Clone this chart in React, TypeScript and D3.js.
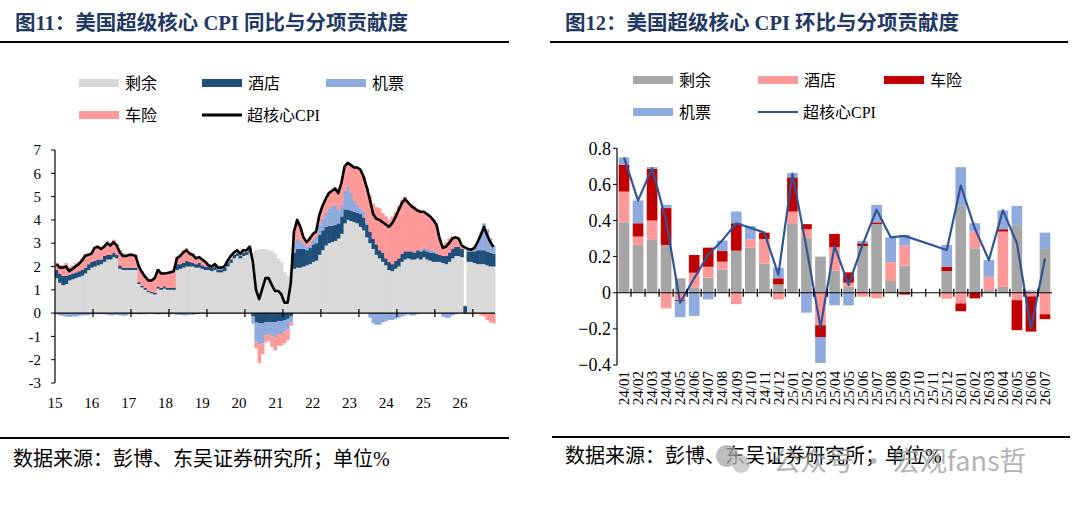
import React, { useEffect, useRef } from 'react';
import * as d3 from 'd3';

// 图11：同比贡献（%），2015-01 ~ 2026-07，按月；2025-10 缺数
const yoyResidual = [
  1.5, 1.3, 1.2, 1.25, 1.4, 1.45, 1.5, 1.55, 1.6, 1.7, 1.85, 1.95,
  2.0, 2.05, 2.1, 2.2, 2.3, 2.3, 2.4, 2.35, 1.9, 1.85, 1.85, 1.85,
  1.85, 1.85, 1.25, 1.1, 1.0, 0.9, 0.85, 0.8, 1.05, 1.0, 1.05, 1.0,
  1.0, 1.0, 1.85, 1.9, 1.95, 2.0, 2.0, 2.0, 1.95, 1.95, 1.9, 1.85,
  1.85, 1.8, 1.85, 1.75, 1.75, 1.8, 2.0, 2.15, 2.35, 2.45, 2.35, 2.45,
  2.5, 2.6, 2.6, 2.7, 2.75, 2.75, 2.75, 2.7, 2.65, 2.55, 2.35, 2.2,
  1.75, 1.6, 1.85, 1.9, 1.95, 1.95, 2.0, 2.05, 2.1, 2.2, 2.25, 2.5,
  2.7, 2.9, 3.0, 3.05, 3.1, 3.2, 3.4, 3.85, 4.0, 3.95, 3.9, 3.85,
  3.7, 3.55, 3.25, 3.0, 2.75, 2.5, 2.35, 2.2, 2.05, 1.85, 1.8, 1.9,
  2.0, 2.2, 2.3, 2.35, 2.3, 2.3, 2.35, 2.3, 2.4, 2.3, 2.25, 2.2,
  2.2, 2.2, 2.15, 2.1, 2.2, 2.35, 2.45, 2.45, 2.4, null, 2.2, 2.2,
  2.15, 2.1, 2.1, 2.1, 2.05, 2.0, 2.0,
];
const yoyHotel = [
  0.35, 0.4, 0.4, 0.35, 0.25, 0.25, 0.25, 0.25, 0.25, 0.25, 0.25, 0.25,
  0.25, 0.25, 0.2, 0.25, 0.2, 0.2, 0.2, 0.15, 0.15, 0.1, 0.1, 0.1,
  0.1, 0.1, 0.08, 0.08, 0.08, 0.06, 0.06, 0.08, 0.1, 0.08, 0.1, 0.08,
  0.08, 0.1, 0.25, 0.2, 0.2, 0.25, 0.2, 0.15, 0.15, 0.2, 0.15, 0.15,
  0.15, 0.15, 0.15, 0.12, 0.12, 0.15, 0.15, 0.15, 0.15, 0.12, 0.12, 0.15,
  0.12, 0.15, -0.15, -0.4, -0.45, -0.45, -0.4, -0.4, -0.4, -0.4, -0.35, -0.35,
  -0.3, -0.25, -0.15, 0.7, 0.8, 0.8, 0.75, 0.65, 0.7, 0.75, 0.75, 0.85,
  0.85, 0.8, 0.75, 0.7, 0.7, 0.65, 0.75, 0.6, 0.45, 0.45, 0.45, 0.45,
  0.55, 0.55, 0.55, 0.5, 0.45, 0.45, 0.35, 0.4, 0.3, 0.35, 0.3, 0.35,
  0.35, 0.35, 0.35, 0.3, 0.35, 0.3, 0.35, 0.35, 0.3, 0.35, 0.35, 0.4,
  0.35, 0.3, 0.3, 0.35, 0.4, 0.4, 0.4, 0.4, 0.35, 0.3, 0.45, 0.45,
  0.5, 0.6, 0.6, 0.6, 0.6, 0.6, 0.55,
];
const yoyAirfare = [
  -0.05, -0.1, -0.12, -0.15, -0.17, -0.15, -0.15, -0.12, -0.1, -0.1, -0.08, -0.05,
  -0.05, -0.05, -0.05, -0.05, -0.08, -0.1, -0.1, -0.08, -0.1, -0.12, -0.1, -0.05,
  -0.05, -0.04, -0.06, -0.05, -0.05, -0.04, -0.03, -0.05, -0.06, -0.05, -0.04, -0.05,
  -0.05, -0.05, -0.08, -0.08, -0.1, -0.1, -0.08, -0.08, -0.05, -0.05, -0.03, -0.02,
  -0.02, -0.03, -0.02, 0.02, 0.02, 0, 0.03, 0.05, 0.05, 0.04, 0.03, 0.04,
  0.03, 0.05, -0.3, -0.8, -0.9, -0.85, -0.55, -0.5, -0.6, -0.65, -0.55, -0.55,
  -0.5, -0.45, -0.25, 0.4, 0.45, 0.35, 0.25, 0.15, 0.15, 0.2, 0.3, 0.45,
  0.5, 0.6, 0.75, 0.85, 0.85, 0.6, 0.5, 0.8, 1.0, 0.75, 0.45, 0.35,
  0.25, 0.25, 0.1, -0.2, -0.45, -0.5, -0.5, -0.4, -0.35, -0.3, -0.3, -0.25,
  -0.2, -0.15, -0.1, -0.05, -0.1, -0.1, -0.05, 0.05, 0.1, 0.1, 0.1, 0.1,
  0.05, 0.0, -0.15, -0.2, -0.2, -0.1, -0.05, 0.0, 0.0, null, 0.1, 0.05,
  0.15, 0.4, 0.75, 1.15, 0.95, 0.6, 0.35,
];
const yoyCarIns = [
  0.3, 0.35, 0.47, 0.55, 0.32, 0.35, 0.4, 0.42, 0.5, 0.6, 0.48, 0.4,
  0.6, 0.6, 0.5, 0.45, 0.58, 0.5, 0.55, 0.48, 0.65, 0.62, 0.6, 0.6,
  0.6, 0.55, 0.72, 0.62, 0.52, 0.49, 0.54, 0.67, 0.75, 0.67, 0.6, 0.69,
  0.72, 0.75, 0.33, 0.43, 0.55, 0.55, 0.43, 0.43, 0.3, 0.3, 0.28, 0.22,
  0.07, 0.08, 0.12, 0.06, 0.06, 0.05, 0.07, 0.1, 0.05, 0.09, 0.05, 0.06,
  0.05, 0.05, 0.0, -0.3, -0.8, -0.45, -0.3, -0.3, -0.45, -0.55, -0.5, -0.5,
  -0.5, -0.45, -0.15, 0.5, 0.8, 0.6, 0.25, 0.2, 0.25, 0.25, 0.2, 0.4,
  0.55, 0.6, 0.65, 0.65, 0.7, 0.7, 0.95, 1.05, 1.0, 1.2, 1.45, 1.6,
  1.65, 1.5, 1.5, 1.55, 1.5, 1.6, 1.8, 1.7, 1.8, 1.8, 2.05, 2.1,
  2.25, 2.3, 2.35, 2.15, 2.05, 2.0, 1.75, 1.65, 1.55, 1.5, 1.45, 1.3,
  1.2, 0.7, 0.5, 0.6, 0.6, 0.55, 0.45, 0.35, 0.15, null, -0.05, -0.05,
  -0.05, -0.05, -0.1, -0.15, -0.3, -0.4, -0.45,
];
const yoySupercore = [
  2.1, 1.95, 1.95, 2.0, 1.8, 1.9, 2.0, 2.1, 2.25, 2.45, 2.5, 2.55,
  2.8, 2.85, 2.75, 2.85, 3.0, 2.9, 3.05, 2.9, 2.6, 2.45, 2.45, 2.5,
  2.5, 2.45, 2.0, 1.75, 1.55, 1.4, 1.4, 1.5, 1.85, 1.7, 1.7, 1.72,
  1.75, 1.8, 2.35, 2.45, 2.6, 2.7, 2.55, 2.5, 2.35, 2.4, 2.3, 2.2,
  2.05, 2.0, 2.1, 1.95, 1.95, 2.0, 2.25, 2.45, 2.6, 2.7, 2.55, 2.7,
  2.7, 2.85, 2.2, 1.0, 0.6, 1.05, 1.5, 1.5, 1.2, 0.95, 0.95, 0.8,
  0.45, 0.45, 1.3, 3.5, 4.0, 3.7, 3.25, 3.05, 3.2, 3.4, 3.5, 4.2,
  4.6, 4.9, 5.15, 5.25, 5.35, 5.15, 5.6, 6.3, 6.45, 6.35, 6.25, 6.25,
  6.15, 5.85, 5.4, 4.85, 4.25, 4.05, 4.0, 3.9, 3.8, 3.7, 3.85, 4.1,
  4.4, 4.7, 4.9, 4.75, 4.6, 4.5, 4.4, 4.35, 4.35, 4.25, 4.15, 4.0,
  3.8, 3.2, 2.8, 2.85, 3.0, 3.2, 3.25, 3.2, 2.9, null, 2.75, 2.72,
  2.8, 3.05, 3.35, 3.7, 3.35, 3.05, 2.85,
];
const yoyYearLabels = ['15', '16', '17', '18', '19', '20', '21', '22', '23', '24', '25', '26'];
const yoyTicks = d3.range(-3, 8);

// 图12：环比贡献（%）；25/10、25/11 缺数
const momMonths = [
  '24/01', '24/02', '24/03', '24/04', '24/05', '24/06', '24/07', '24/08', '24/09', '24/10', '24/11', '24/12',
  '25/01', '25/02', '25/03', '25/04', '25/05', '25/06', '25/07', '25/08', '25/09', '25/10', '25/11', '25/12',
  '26/01', '26/02', '26/03', '26/04', '26/05', '26/06', '26/07',
];
const momResidual = [0.39, 0.265, 0.296, 0.265, 0.08, 0.03, 0.085, 0.13, 0.233, 0.25, 0.163, 0.046, 0.385, 0.306, 0.2, 0.122, 0.033, 0.259, 0.381, 0.065, 0.15, null, null, 0.12, 0.483, 0.246, 0.015, 0.033, 0.376, 0.005, 0.243];
const momHotel = [0.17, 0.046, 0.104, -0.087, -0.04, 0.081, 0.059, 0.042, -0.063, 0.046, 0.135, -0.037, 0.065, 0.046, -0.18, 0.13, 0.023, -0.022, -0.031, 0.105, 0.111, null, null, -0.033, -0.059, 0.093, 0.074, 0.306, -0.041, -0.02, -0.119];
const momCarIns = [0.15, 0.074, 0.287, 0.204, -0.005, 0.098, 0.106, 0.059, 0.152, 0, 0.035, 0.034, 0.189, 0.028, -0.065, 0.074, 0.057, 0.015, 0.009, 0, -0.01, null, null, 0.024, -0.043, -0.031, 0, 0.013, -0.166, -0.195, -0.027];
const momAirfare = [0.04, 0.126, 0.009, 0.018, -0.09, -0.128, -0.037, 0.058, 0.065, 0.074, 0, 0.059, 0.024, -0.11, -0.144, -0.069, -0.07, 0.013, 0.097, 0.137, 0.059, null, null, 0.121, 0.213, 0.046, 0.092, 0.104, 0.105, 0.008, 0.09];
const momSupercore = [0.75, 0.51, 0.69, 0.4, -0.055, 0.08, 0.21, 0.29, 0.385, 0.36, 0.333, 0.1, 0.66, 0.25, -0.19, 0.26, 0.043, 0.265, 0.46, 0.307, 0.315, null, null, 0.237, 0.594, 0.357, 0.181, 0.456, 0.274, -0.198, 0.19];
const momTicks = [-0.4, -0.2, 0, 0.2, 0.4, 0.6, 0.8];

const FONT = "'Times New Roman', 'Liberation Serif', 'Noto Sans CJK SC', serif";
const TITLE_COLOR = '#1F3864';

const App: React.FC = () => {
  const svgRef = useRef<SVGSVGElement | null>(null);

  useEffect(() => {
    if (!svgRef.current) return;
    const svg = d3.select(svgRef.current);
    svg.selectAll('*').remove();
    svg.style('font-family', FONT);

    const text = (x: number, y: number, s: string, size: number, anchor = 'start') =>
      svg.append('text')
        .attr('x', x).attr('y', y)
        .attr('text-anchor', anchor)
        .style('font-size', `${size}px`)
        .style('fill', '#000')
        .text(s);

    const hline = (x1: number, x2: number, y: number, w: number) =>
      svg.append('line').attr('x1', x1).attr('x2', x2).attr('y1', y).attr('y2', y)
        .attr('stroke', '#000').attr('stroke-width', w);

    // ---------- headers / footers ----------
    text(15, 30, '图11：美国超级核心 CPI 同比与分项贡献度', 20.5)
      .style('font-weight', 'bold').style('fill', TITLE_COLOR);
    text(565, 30, '图12：美国超级核心 CPI 环比与分项贡献度', 20.5)
      .style('font-weight', 'bold').style('fill', TITLE_COLOR);
    hline(0, 509, 42, 2);
    hline(550, 1068, 42, 2);
    hline(0, 509, 438, 2);
    hline(552, 1070, 437, 2);
    text(13, 466, '数据来源：彭博、东吴证券研究所；单位%', 20);
    text(565, 463, '数据来源：彭博、东吴证券研究所；单位%', 20);

    // ---------- legends ----------
    const swatch = (x: number, y: number, fill: string, label: string) => {
      svg.append('rect').attr('x', x).attr('y', y - 4).attr('width', 40).attr('height', 8).attr('fill', fill);
      text(x + 46, y, label, 16).attr('dy', '0.35em');
    };
    const lineSwatch = (x: number, y: number, stroke: string, w: number, label: string) => {
      svg.append('line').attr('x1', x).attr('x2', x + 40).attr('y1', y).attr('y2', y)
        .attr('stroke', stroke).attr('stroke-width', w);
      text(x + 45, y, label, 16).attr('dy', '0.35em');
    };

    const colorL: Record<string, string> = { residual: '#D9D9D9', hotel: '#1F4E79', airfare: '#8FAADC', car: '#FF9999' };
    swatch(79, 83, colorL.residual, '剩余');
    swatch(202, 83, colorL.hotel, '酒店');
    swatch(326, 83, colorL.airfare, '机票');
    swatch(79, 115, colorL.car, '车险');
    lineSwatch(202, 115, '#000', 3, '超核心CPI');

    const colorR: Record<string, string> = { residual: '#A6A6A6', hotel: '#FF9999', car: '#C00000', airfare: '#8FAADC' };
    const lineR = '#2F5597';
    swatch(633, 80, colorR.residual, '剩余');
    swatch(758, 80, colorR.hotel, '酒店');
    swatch(884, 80, colorR.car, '车险');
    swatch(633, 112, colorR.airfare, '机票');
    lineSwatch(758, 112, lineR, 2, '超核心CPI');

    // ---------- left chart: YoY ----------
    const months = d3.timeMonth.range(new Date(2015, 0, 1), new Date(2026, 7, 1));
    const fmt = d3.timeFormat('%Y-%m');
    const rowsL = months.map((m, i) => ({
      key: fmt(m), month: m.getMonth(),
      residual: yoyResidual[i], hotel: yoyHotel[i], airfare: yoyAirfare[i], car: yoyCarIns[i], cpi: yoySupercore[i],
    }));
    const xL = d3.scaleBand<string>().domain(rowsL.map(r => r.key)).range([55, 495]);
    const yL = d3.scaleLinear().domain([-3, 7]).range([383, 150]);
    const keysL = ['residual', 'hotel', 'airfare', 'car'];
    const seriesL = d3.stack<any>().keys(keysL).value((d, k) => d[k] ?? 0).offset(d3.stackOffsetDiverging)(rowsL);

    const gL = svg.append('g');
    seriesL.forEach(s => {
      gL.append('g').attr('fill', colorL[s.key])
        .selectAll('rect')
        .data(s.filter(d => d[0] !== d[1]))
        .enter().append('rect')
        .attr('x', (d: any) => xL(d.data.key)!)
        .attr('width', xL.bandwidth() + 0.5)
        .attr('y', (d: any) => yL(Math.max(d[0], d[1])))
        .attr('height', (d: any) => Math.abs(yL(d[0]) - yL(d[1])));
    });

    const lineGenL = d3.line<any>()
      .x(d => xL(d.key)! + xL.bandwidth() / 2)
      .y(d => yL(d.cpi));
    gL.append('path')
      .datum(rowsL.filter(r => r.cpi != null))
      .attr('d', lineGenL)
      .attr('fill', 'none')
      .attr('stroke', '#000')
      .attr('stroke-width', 2.6)
      .attr('stroke-linejoin', 'round');

    // axes
    svg.append('line').attr('x1', 55).attr('x2', 55).attr('y1', yL(7)).attr('y2', yL(-3)).attr('stroke', '#000').attr('stroke-width', 1.2);
    hline(55, 495, yL(0), 1.2);
    yoyTicks.forEach(t => {
      svg.append('line').attr('x1', 51).attr('x2', 55).attr('y1', yL(t)).attr('y2', yL(t)).attr('stroke', '#000');
      text(41, yL(t), String(t), 15, 'end').attr('dy', '0.35em');
    });
    rowsL.filter((r, i) => i > 0 && r.month === 0).forEach(r => {
      const x = xL(r.key)!;
      svg.append('line').attr('x1', x).attr('x2', x).attr('y1', yL(0) - 4).attr('y2', yL(0) + 4)
        .attr('stroke', '#000').attr('stroke-width', 1.2);
    });
    const xLab = d3.scaleLinear().domain([0, yoyYearLabels.length - 1]).range([55, 460]);
    yoyYearLabels.forEach((l, i) => text(xLab(i), 408, l, 15, 'middle'));

    // ---------- right chart: MoM ----------
    const rowsR = momMonths.map((m, i) => ({
      key: m, residual: momResidual[i], hotel: momHotel[i], car: momCarIns[i], airfare: momAirfare[i], cpi: momSupercore[i],
    }));
    const xR = d3.scaleBand<string>().domain(momMonths).range([617, 1052]).paddingInner(0.24).paddingOuter(0.12);
    const yR = d3.scaleLinear().domain([-0.4, 0.8]).range([365, 148.3]);
    const keysR = ['residual', 'hotel', 'car', 'airfare'];
    const seriesR = d3.stack<any>().keys(keysR).value((d, k) => d[k] ?? 0).offset(d3.stackOffsetDiverging)(rowsR);

    const gR = svg.append('g');
    seriesR.forEach(s => {
      gR.append('g').attr('fill', colorR[s.key])
        .selectAll('rect')
        .data(s.filter(d => d[0] !== d[1]))
        .enter().append('rect')
        .attr('x', (d: any) => xR(d.data.key)!)
        .attr('width', xR.bandwidth())
        .attr('y', (d: any) => yR(Math.max(d[0], d[1])))
        .attr('height', (d: any) => Math.abs(yR(d[0]) - yR(d[1])));
    });

    svg.append('line').attr('x1', 617).attr('x2', 617).attr('y1', yR(0.8)).attr('y2', yR(-0.4)).attr('stroke', '#000').attr('stroke-width', 1.2);
    hline(617, 1052, yR(0), 1.2);
    momTicks.forEach(t => {
      svg.append('line').attr('x1', 613).attr('x2', 617).attr('y1', yR(t)).attr('y2', yR(t)).attr('stroke', '#000');
      text(611, yR(t), t === 0 ? '0' : d3.format('.1f')(t), 18, 'end').attr('dy', '0.35em');
    });
    const stepR = xR.step();
    momMonths.slice(1).forEach(m => {
      const x = xR(m)! - (stepR - xR.bandwidth()) / 2;
      svg.append('line').attr('x1', x).attr('x2', x).attr('y1', yR(0) - 4).attr('y2', yR(0) + 4)
        .attr('stroke', '#000').attr('stroke-width', 1.2);
    });
    momMonths.forEach(m => {
      const cx = xR(m)! + xR.bandwidth() / 2;
      text(cx, 371, m, 15, 'end').attr('dy', '0.35em').attr('transform', `rotate(-90, ${cx}, 371)`);
    });

    const lineGenR = d3.line<any>()
      .x(d => xR(d.key)! + xR.bandwidth() / 2)
      .y(d => yR(d.cpi));
    gR.append('path')
      .datum(rowsR.filter(r => r.cpi != null))
      .attr('d', lineGenR)
      .attr('fill', 'none')
      .attr('stroke', lineR)
      .attr('stroke-width', 2.2)
      .attr('stroke-linejoin', 'round');

    // ---------- watermark ----------
    const wm = svg.append('g').style('opacity', 0.75);
    wm.append('circle').attr('cx', 727).attr('cy', 456).attr('r', 11).attr('fill', '#a8a8a8');
    wm.append('circle').attr('cx', 741).attr('cy', 464).attr('r', 9).attr('fill', '#bdbdbd');
    wm.append('text').attr('x', 773).attr('y', 471).style('font-size', '27px').style('fill', '#9a9a9a')
      .style('font-family', "'Noto Sans CJK SC', sans-serif").text('公众号 · 宏观fans哲');
  }, []);

  return (
    <svg ref={svgRef} width={1080} height={505}
      style={{ position: 'absolute', left: 0, top: 0, background: '#fff' }} />
  );
};

export default App;
